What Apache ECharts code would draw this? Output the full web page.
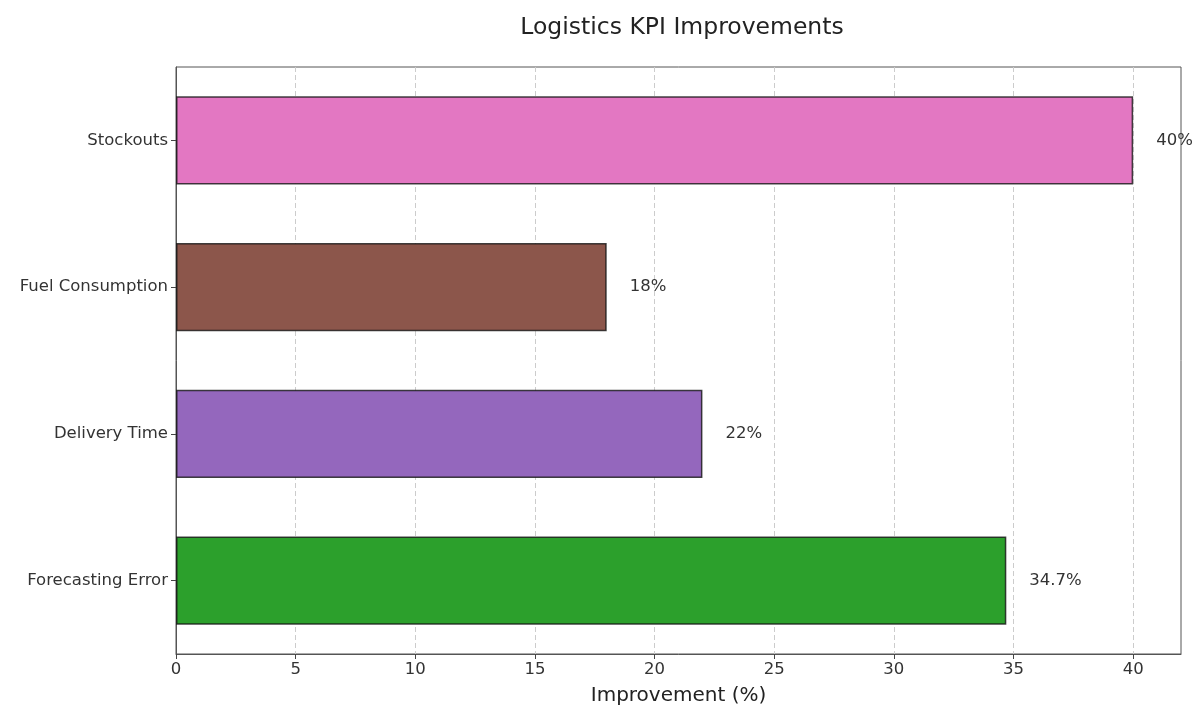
<!DOCTYPE html>
<html>
<head>
<meta charset="utf-8">
<style>
  html, body { margin: 0; padding: 0; background: #ffffff; }
  #chart { width: 1199px; height: 711px; }
</style>
<script src="https://cdn.jsdelivr.net/npm/echarts@6/dist/echarts.min.js"></script>
</head>
<body>
<div id="chart"></div>
<script>
// KPI categories, bottom to top as drawn on the y axis
const categories = ['Forecasting Error', 'Delivery Time', 'Fuel Consumption', 'Stockouts'];
// Improvement in percent for each KPI
const improvements = [34.7, 22, 18, 40];
// Label text shown next to each bar
const valueLabels = ['34.7%', '22%', '18%', '40%'];
// Tick positions along the improvement axis
const xTicks = [0, 5, 10, 15, 20, 25, 30, 35, 40];
const barColors = ['#2ca02c', '#9467bd', '#8c564b', '#e377c2'];

const font = 'DejaVu Sans, Verdana, sans-serif';
const chart = echarts.init(document.getElementById('chart'), null, { renderer: 'canvas' });

chart.setOption({
  animation: false,
  backgroundColor: '#ffffff',
  title: {
    text: 'Logistics KPI Improvements',
    left: 677,
    top: 11,
    textAlign: 'center',
    textStyle: { fontFamily: font, fontSize: 23.5, fontWeight: 'normal', color: '#222222' }
  },
  grid: {
    left: 176, right: 18, top: 67, bottom: 57,
    show: true, borderColor: '#555555', borderWidth: 1, backgroundColor: 'transparent'
  },
  xAxis: {
    type: 'value',
    min: 0, max: 42, interval: 5,
    name: 'Improvement (%)',
    nameLocation: 'middle',
    nameGap: 32,
    nameTextStyle: { fontFamily: font, fontSize: 20, color: '#222222' },
    axisLine: { show: true, onZero: false, lineStyle: { color: '#555555', width: 1 } },
    axisTick: { show: true, length: 5, customValues: xTicks, lineStyle: { color: '#444444' } },
    axisLabel: {
      fontFamily: font, fontSize: 16.5, color: '#333333', margin: 7,
      customValues: xTicks
    },
    splitLine: { show: true, lineStyle: { color: '#cccccc', type: [5, 3], width: 1 } }
  },
  yAxis: {
    type: 'category',
    data: categories,
    axisLine: { show: true, lineStyle: { color: '#555555', width: 1 } },
    axisTick: { show: true, alignWithLabel: true, length: 5, lineStyle: { color: '#444444' } },
    axisLabel: { fontFamily: font, fontSize: 16.5, color: '#333333', margin: 8 },
    splitLine: { show: false }
  },
  series: [{
    type: 'bar',
    barWidth: '60%',
    data: improvements.map((v, i) => ({
      value: v,
      itemStyle: { color: barColors[i] },
      label: { formatter: valueLabels[i] }
    })),
    itemStyle: { borderColor: 'rgba(20,20,20,0.8)', borderWidth: 1.5 },
    label: {
      show: true,
      position: 'right',
      distance: 23,
      fontFamily: font,
      fontSize: 16.5,
      color: '#333333'
    }
  }]
});
</script>
</body>
</html>
